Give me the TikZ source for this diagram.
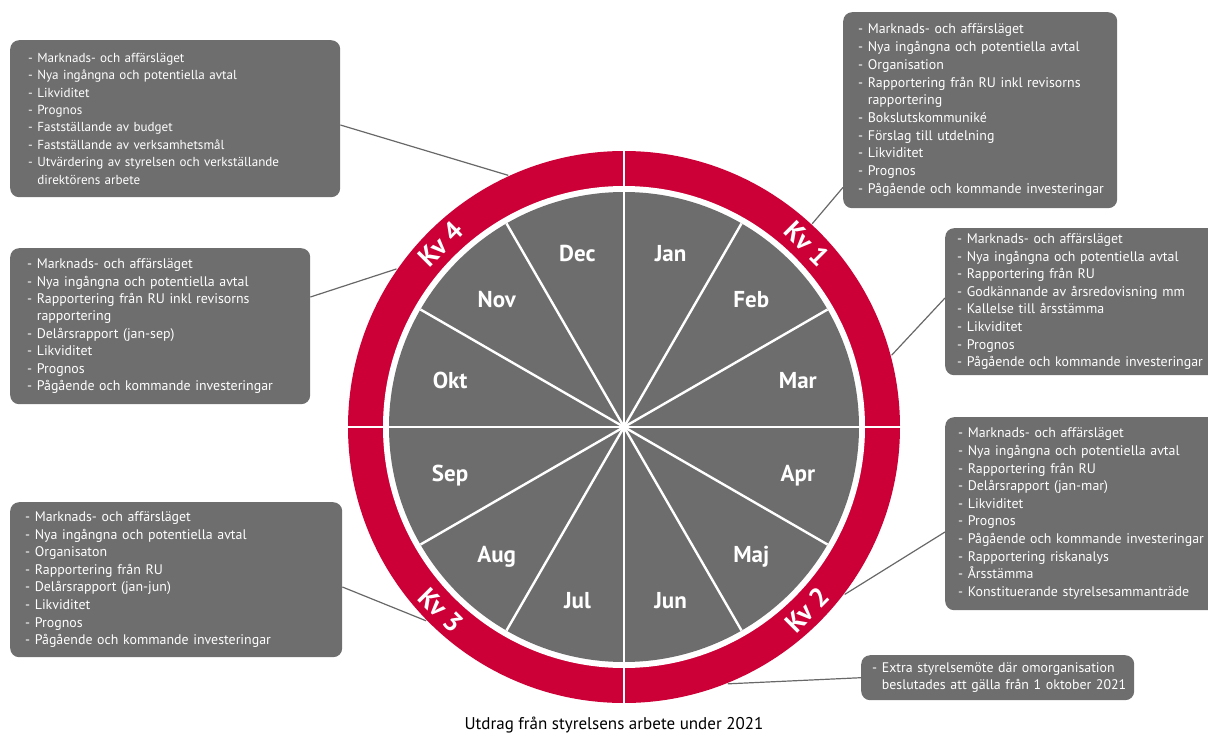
\documentclass[tikz,border=0pt]{standalone}
\usepackage{fontspec}
\setmainfont{PT Sans}
\usetikzlibrary{calc}
\definecolor{kvred}{HTML}{CC0036}
\definecolor{wheelgray}{HTML}{6D6D6D}
\definecolor{boxgray}{HTML}{6E6E6E}
\definecolor{linegray}{HTML}{686868}
\newcommand{\boxfont}[2]{\fontsize{#1}{#2}\selectfont}
\newcommand{\bitem}[1]{\mbox{- #1}}
\newcommand{\bcont}[1]{\mbox{\phantom{- }#1}}
\tikzset{
  infobox/.style={fill=boxgray, rounded corners=9pt, text=white, align=left, inner sep=0pt, anchor=north west},
  month/.style={text=white, font=\boxfont{23}{23}\bfseries, text height=16pt, text depth=0pt, inner sep=0pt},
  kvlabel/.style={text=white, font=\boxfont{27}{27}\bfseries, text height=19pt, text depth=0pt, inner sep=0pt},
  conn/.style={draw=linegray, line width=1.2pt},
  divider/.style={draw=white, line width=2.4pt},
}
\begin{document}
\begin{tikzpicture}[x=1pt,y=1pt]
\useasboundingbox (0,0) rectangle (1208,-736);
\coordinate (C) at (624,-427);

% boxes
\node[infobox, minimum width=330pt, minimum height=157pt, text width=294pt, font=\boxfont{13.1}{17.4}] (b4) at (10,-40) {%
\bitem{Marknads- och affärsläget}\\
\bitem{Nya ingångna och potentiella avtal}\\
\bitem{Likviditet}\\
\bitem{Prognos}\\
\bitem{Fastställande av budget}\\
\bitem{Fastställande av verksamhetsmål}\\
\bitem{Utvärdering av styrelsen och verkställande}\\
\bcont{direktörens arbete}};

\node[infobox, minimum width=300pt, minimum height=156pt, text width=266pt, font=\boxfont{13.9}{17.4}] (b4b) at (10,-248) {%
\bitem{Marknads- och affärsläget}\\
\bitem{Nya ingångna och potentiella avtal}\\
\bitem{Rapportering från RU inkl revisorns}\\
\bcont{rapportering}\\
\bitem{Delårsrapport (jan-sep)}\\
\bitem{Likviditet}\\
\bitem{Prognos}\\
\bitem{Pågående och kommande investeringar}};

\node[infobox, minimum width=274pt, minimum height=196pt, text width=244pt, font=\boxfont{13.9}{17.7}] (b1) at (843,-12) {%
\bitem{Marknads- och affärsläget}\\
\bitem{Nya ingångna och potentiella avtal}\\
\bitem{Organisation}\\
\bitem{Rapportering från RU inkl revisorns}\\
\bcont{rapportering}\\
\bitem{Bokslutskommuniké}\\
\bitem{Förslag till utdelning}\\
\bitem{Likviditet}\\
\bitem{Prognos}\\
\bitem{Pågående och kommande investeringar}};

\node[infobox, minimum width=273pt, minimum height=147pt, text width=249pt, font=\boxfont{13.9}{17.6}] (b1b) at (945,-228) {%
\bitem{Marknads- och affärsläget}\\
\bitem{Nya ingångna och potentiella avtal}\\
\bitem{Rapportering från RU}\\
\bitem{Godkännande av årsredovisning mm}\\
\bitem{Kallelse till årsstämma}\\
\bitem{Likviditet}\\
\bitem{Prognos}\\
\bitem{Pågående och kommande investeringar}};

\node[infobox, minimum width=273pt, minimum height=193pt, text width=247pt, font=\boxfont{13.9}{17.6}] (b2) at (945,-417) {%
\bitem{Marknads- och affärsläget}\\
\bitem{Nya ingångna och potentiella avtal}\\
\bitem{Rapportering från RU}\\
\bitem{Delårsrapport (jan-mar)}\\
\bitem{Likviditet}\\
\bitem{Prognos}\\
\bitem{Pågående och kommande investeringar}\\
\bitem{Rapportering riskanalys}\\
\bitem{Årsstämma}\\
\bitem{Konstituerande styrelsesammanträde}};

\node[infobox, minimum width=273pt, minimum height=45pt, text width=251pt, font=\boxfont{13.9}{17.3}] (bx) at (861,-655) {%
\bitem{Extra styrelsemöte där omorganisation}\\
\bcont{beslutades att gälla från 1 oktober 2021}};

\node[infobox, minimum width=332pt, minimum height=155pt, text width=302pt, font=\boxfont{13.9}{17.6}] (b3) at (10,-502) {%
\bitem{Marknads- och affärsläget}\\
\bitem{Nya ingångna och potentiella avtal}\\
\bitem{Organisaton}\\
\bitem{Rapportering från RU}\\
\bitem{Delårsrapport (jan-jun)}\\
\bitem{Likviditet}\\
\bitem{Prognos}\\
\bitem{Pågående och kommande investeringar}};

% connector ends on the ring
\coordinate (e4) at ($(C)+(114.7:277pt)$);
\coordinate (e4b) at ($(C)+(145.2:277pt)$);
\coordinate (e1) at ($(C)+(47.2:277pt)$);
\coordinate (e1b) at ($(C)+(15:277pt)$);
\coordinate (e2) at ($(C)+(-37.2:277pt)$);
\coordinate (ex) at ($(C)+(-68:277pt)$);
\coordinate (e3) at ($(C)+(-135.6:277pt)$);

\draw[conn] ($(b4.north east)+(0,-85)$) -- (e4);
\draw[conn] ($(b4b.north east)+(0,-49)$) -- (e4b);
\draw[conn] ($(b1.south west)+(0,21)$) -- (e1);
\draw[conn] ($(b1b.north west)+(0,-70)$) -- (e1b);
\draw[conn] ($(b2.north west)+(0,-115)$) -- (e2);
\draw[conn] (bx.west) -- (ex);
\draw[conn] ($(b3.north east)+(0,-85)$) -- (e3);

% wheel
\fill[kvred] (C) circle (276pt);
\fill[white] (C) circle (241pt);
\fill[wheelgray] (C) circle (235pt);
\foreach \a in {0,30,...,330} \draw[divider] (C) -- ++(\a:235pt);
\foreach \a in {0,90,180,270} \draw[divider] (C) -- ++(\a:277pt);

% months
\node[month] (jan) at ($(C)+(75:180pt)$) {Jan};
\node[month] (feb) at ($(C)+(45:180pt)$) {Feb};
\node[month] (mar) at ($(C)+(15:180pt)$) {Mar};
\node[month] (apr) at ($(C)+(-15:180pt)$) {Apr};
\node[month] (maj) at ($(C)+(-45:180pt)$) {Maj};
\node[month] (jun) at ($(C)+(-75:180pt)$) {Jun};
\node[month] (jul) at ($(C)+(-105:180pt)$) {Jul};
\node[month] (aug) at ($(C)+(-135:180pt)$) {Aug};
\node[month] (sep) at ($(C)+(-165:180pt)$) {Sep};
\node[month] (okt) at ($(C)+(165:180pt)$) {Okt};
\node[month] (nov) at ($(C)+(135:180pt)$) {Nov};
\node[month] (dec) at ($(C)+(105:180pt)$) {Dec};

% quarters
\node[kvlabel, rotate=-45] (kv1) at ($(C)+(45:259pt)$) {Kv 1};
\node[kvlabel, rotate=45] (kv2) at ($(C)+(-45:259pt)$) {Kv 2};
\node[kvlabel, rotate=-45] (kv3) at ($(C)+(-135:259pt)$) {Kv 3};
\node[kvlabel, rotate=45] (kv4) at ($(C)+(135:259pt)$) {Kv 4};

% caption
\node[font=\boxfont{17}{20}, text=black] (cap) at (614,-725) {Utdrag från styrelsens arbete under 2021};
\end{tikzpicture}
\end{document}
